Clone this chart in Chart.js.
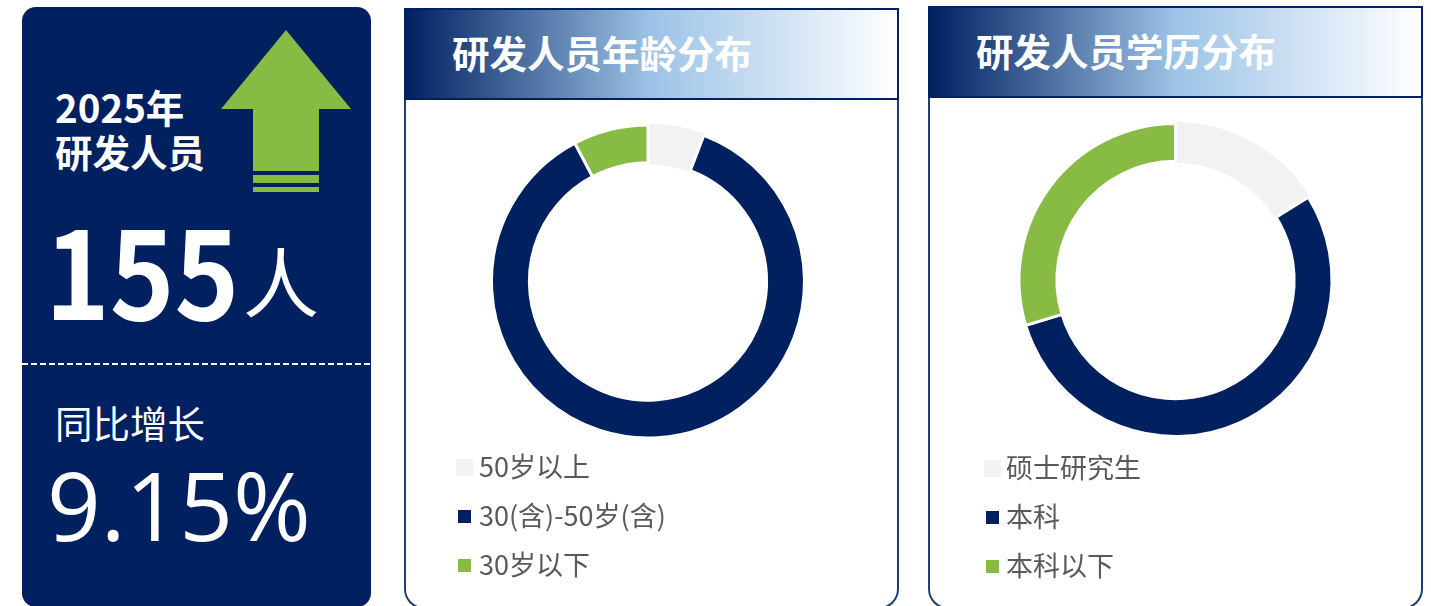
<!DOCTYPE html>
<html lang="zh">
<head>
<meta charset="utf-8">
<script src="https://cdn.jsdelivr.net/npm/chart.js@4/dist/chart.umd.min.js"></script>
<style>
html,body{margin:0;padding:0;width:1431px;height:606px;overflow:hidden;background:#fff;font-family:"Noto Sans CJK SC","Noto Sans",sans-serif}
.abs,.abs *{box-sizing:border-box}
.abs{position:absolute;white-space:nowrap;line-height:1}
#side{left:22px;top:7px;width:349px;height:600px;background:#002060;border-radius:14px}
.w{color:#fff}
.panel{width:495px;border:2px solid #1f3f6b;border-top:0;border-radius:0 0 20px 20px;background:#fff}
.head{width:495px;height:92px;border:2px solid #002060;background:linear-gradient(90deg,#002060 0%,#9dc3e6 50%,#fff 100%)}
.title{font-size:37.5px;font-weight:700;color:#fff}
.row{font-size:27px;color:#595959;line-height:30px;height:30px}
.sw{position:absolute;width:17px;height:17px;border-style:solid;border-width:2.5px}
canvas{position:absolute;display:block}
</style>
</head>
<body>
<div class="abs" id="side"></div>
<svg class="abs" style="left:0;top:0" width="1431" height="606">
  <polygon points="286,30 351,109 319,109 319,171 253,171 253,109 221,109" fill="#88BB44"/>
  <rect x="253" y="175" width="66" height="8" fill="#88BB44"/>
  <rect x="253" y="187" width="66" height="5" fill="#88BB44"/>
  <line x1="22" y1="364" x2="371" y2="364" stroke="#fff" stroke-width="2" stroke-dasharray="6 3"/>
</svg>
<div class="abs w" style="left:55px;top:87px;font-size:38.5px;font-weight:700">2025年</div>
<div class="abs w" style="left:55px;top:132px;font-size:37.5px;font-weight:700">研发人员</div>
<div class="abs w" style="left:45px;top:206px;font-size:122px;font-weight:700;transform-origin:0 0;transform:scaleX(.9)">155</div>
<div class="abs w" style="left:243px;top:241px;font-size:76px">人</div>
<div class="abs w" style="left:55px;top:403px;font-size:37.5px">同比增长</div>
<div class="abs w" style="left:47px;top:456px;font-size:96px;font-family:'Open Sans','Noto Sans',sans-serif;transform-origin:0 0;transform:scaleX(.98)">9.15%</div>

<div class="abs panel" style="left:404px;top:8px;height:601px"></div>
<div class="abs head" style="left:404px;top:8px"></div>
<div class="abs title" style="left:452px;top:33px">研发人员年龄分布</div>
<canvas id="ageChart" width="490" height="361" style="left:403px;top:101px;width:490px;height:361px"></canvas>

<div class="abs panel" style="left:928px;top:6px;height:603px"></div>
<div class="abs head" style="left:928px;top:6px"></div>
<div class="abs title" style="left:976px;top:31px">研发人员学历分布</div>
<canvas id="eduChart" width="491" height="360" style="left:930px;top:100px;width:491px;height:360px"></canvas>

<script>
const ageLabels = ['50岁以上', '30(含)-50岁(含)', '30岁以下'];
const ageValues = [9, 134, 12];
const eduLabels = ['硕士研究生', '本科', '本科以下'];
const eduValues = [25, 84, 46];
const sliceColors = ['#F2F2F2', '#002060', '#88BB44'];
const sliceBorders = ['#F2F2F2', '#FFFFFF', '#FFFFFF'];

function donut(id, labels, values) {
  return new Chart(document.getElementById(id), {
    type: 'doughnut',
    data: { labels: labels, datasets: [{
      data: values,
      backgroundColor: sliceColors,
      borderColor: sliceBorders,
      borderWidth: 3
    }]},
    options: {
      responsive: false,
      animation: false,
      radius: 156.5,
      cutout: '75.8%',
      layout: { padding: 0 },
      plugins: { legend: { display: false }, title: { display: false } }
    }
  });
}
function legend(labels, swatchCenter, textLeft, rowCenters) {
  labels.forEach(function (label, i) {
    const row = document.createElement('div');
    row.className = 'abs row';
    row.style.left = textLeft + 'px';
    row.style.top = (rowCenters[i] - 16) + 'px';
    row.textContent = label;
    document.body.appendChild(row);
    const sw = document.createElement('div');
    sw.className = 'abs sw';
    sw.style.left = (swatchCenter - 8.5) + 'px';
    sw.style.top = (rowCenters[i] - 8.5) + 'px';
    sw.style.background = sliceColors[i];
    sw.style.borderColor = sliceBorders[i];
    document.body.appendChild(sw);
  });
}
donut('ageChart', ageLabels, ageValues);
donut('eduChart', eduLabels, eduValues);
legend(ageLabels, 464, 479, [467, 516, 565]);
legend(eduLabels, 992, 1006, [468, 517, 566]);
</script>
</body>
</html>
